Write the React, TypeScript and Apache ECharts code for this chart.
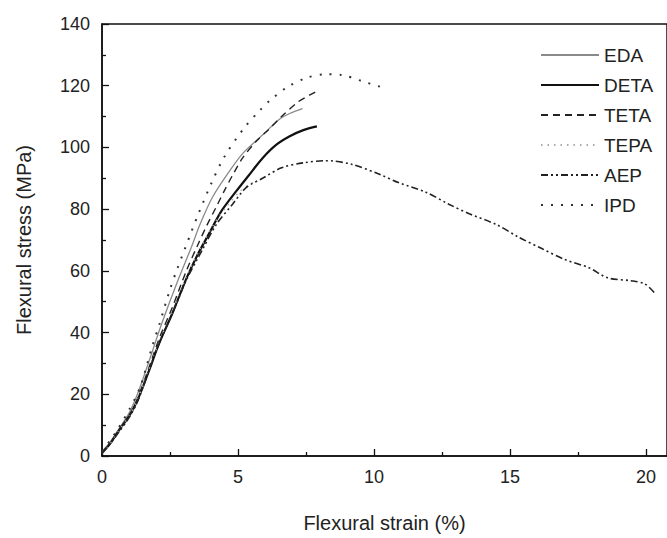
import React, { useEffect, useRef } from "react";
import * as echarts from "echarts";

const seriesNames = ["EDA", "DETA", "TETA", "TEPA", "AEP", "IPD"];

const eda: [number, number][] = [
  [0, 1.5], [0.3, 4.5], [0.6, 8.5], [1.0, 14], [1.3, 20], [1.7, 30], [2.2, 43],
  [2.75, 56], [3.3, 68], [3.6, 75], [4.07, 84], [4.7, 92.5], [5.17, 98],
  [5.9, 104], [6.5, 109], [6.9, 111], [7.37, 112.6],
];
const deta: [number, number][] = [
  [0, 1], [0.3, 4], [0.6, 8], [1.0, 13], [1.3, 18], [1.7, 27], [2.1, 36.5],
  [2.6, 46.5], [3.1, 57.5], [3.5, 65], [3.9, 71.5], [4.4, 79.5], [4.95, 86],
  [5.4, 91], [5.9, 96.5], [6.4, 100.8], [6.9, 103.6], [7.4, 105.6], [7.9, 106.8],
];
const teta: [number, number][] = [
  [0, 1], [0.3, 4], [0.6, 8], [1.0, 13], [1.3, 18.5], [1.7, 28], [2.1, 38],
  [2.6, 48.5], [3.1, 60], [3.5, 68], [3.83, 74.3], [4.2, 80.7], [4.5, 86],
  [4.8, 91], [5.17, 96.6], [5.67, 102], [6.15, 106], [6.6, 110], [7.2, 114.7],
  [7.7, 117.3], [7.85, 118],
];
const tepa: [number, number][] = [
  [0, 1], [0.3, 4], [0.6, 8], [1.0, 13], [1.3, 18], [1.7, 27.5], [2.1, 37],
  [2.6, 47], [3.1, 58], [3.6, 67], [4.1, 75], [4.6, 81], [5.1, 86], [5.6, 89],
];
const aep: [number, number][] = [
  [0, 1], [0.3, 4], [0.6, 7.5], [1.0, 12.5], [1.3, 17.5], [1.7, 27], [2.1, 36.5],
  [2.6, 46.5], [3.1, 57], [3.7, 67], [4.2, 75], [4.8, 81.6], [5.3, 87], [5.9, 90],
  [6.6, 93.4], [7.4, 95], [8.2, 95.7], [8.5, 95.6], [9.2, 94.5], [10.2, 91.3],
  [10.9, 88.6], [11.9, 85.5], [12.75, 81.6], [13.5, 78.5], [14.5, 75], [15.3, 71],
  [16.15, 67.3], [17.0, 63.7], [17.9, 61], [18.6, 57.7], [19.45, 56.8],
  [19.95, 55.8], [20.3, 53],
];
const ipd: [number, number][] = [
  [0, 1.5], [0.3, 5], [0.6, 9], [1.0, 15], [1.39, 22], [1.83, 35], [2.12, 43],
  [2.5, 54], [2.78, 61], [3.04, 67], [3.3, 73], [3.5, 77.5], [4.0, 88], [4.5, 97],
  [5.2, 106], [5.8, 112], [6.15, 115], [6.8, 119.5], [7.5, 122.5], [8.2, 123.7],
  [8.8, 123.5], [9.55, 121.5], [10.25, 119.6],
];

const xMajorTicks = [0, 5, 10, 15, 20];
const xMinorTicks = [2.5, 7.5, 12.5, 17.5];
const xMax = 20.77;

const FONT = "'Liberation Sans', Arial, sans-serif";

export default function App() {
  const ref = useRef<HTMLDivElement>(null);
  useEffect(() => {
    if (!ref.current) return;
    const chart = echarts.init(ref.current, undefined, { renderer: "svg" });
    const lineCommon = { type: "line", showSymbol: false, symbol: "none", smooth: 0.3 };
    const option: any = {
      animation: false,
      backgroundColor: "#fff",
      textStyle: { fontFamily: FONT },
      grid: {
        left: 102, right: -2, top: 24, bottom: 75,
        show: true, borderColor: "#111", borderWidth: 1.5, backgroundColor: "rgba(0,0,0,0)",
      },
      legend: {
        orient: "vertical",
        left: 535,
        top: 40,
        itemWidth: 58,
        itemHeight: 14,
        itemGap: 10,
        data: seriesNames,
        itemStyle: { color: "rgba(0,0,0,0)", borderColor: "rgba(0,0,0,0)", borderWidth: 0, opacity: 0 },
        textStyle: { fontSize: 19, color: "#222", fontFamily: FONT, lineHeight: 20 },
      },
      xAxis: [
        {
          type: "value",
          min: 0,
          max: xMax,
          name: "Flexural strain (%)",
          nameLocation: "middle",
          nameGap: 57,
          nameTextStyle: { fontSize: 20, color: "#222", fontFamily: FONT, padding: [0, 0, 0, 0] },
          axisLine: { onZero: false, lineStyle: { color: "#111", width: 1.5 } },
          axisTick: { inside: true, length: 7, customValues: xMajorTicks, lineStyle: { color: "#111", width: 1.3 } },
          axisLabel: { customValues: xMajorTicks, fontSize: 18, color: "#222", margin: 12, fontFamily: FONT },
          splitLine: { show: false },
        },
        {
          type: "value",
          min: 0,
          max: xMax,
          position: "bottom",
          axisLine: { show: false, onZero: false },
          axisTick: { inside: true, length: 4, customValues: xMinorTicks, lineStyle: { color: "#111", width: 1.3 } },
          axisLabel: { show: false },
          splitLine: { show: false },
        },
      ],
      yAxis: {
        type: "value",
        min: 0,
        max: 140,
        interval: 20,
        name: "Flexural stress (MPa)",
        nameLocation: "middle",
        nameGap: 68,
        nameTextStyle: { fontSize: 20, color: "#222", fontFamily: FONT },
        axisLine: { show: true, onZero: false, lineStyle: { color: "#111", width: 1.5 } },
        axisTick: { show: true, inside: true, length: 7, lineStyle: { color: "#111", width: 1.3 } },
        minorTick: { show: true, splitNumber: 2, length: 4, lineStyle: { color: "#111", width: 1.3 } },
        axisLabel: { fontSize: 18, color: "#222", margin: 12, fontFamily: FONT },
        splitLine: { show: false },
      },
      series: [
        { ...lineCommon, name: "EDA", data: eda, lineStyle: { color: "#8a8a8a", width: 1.3, type: "solid" }, itemStyle: { color: "#8a8a8a" } },
        { ...lineCommon, name: "DETA", data: deta, lineStyle: { color: "#111", width: 2.2, type: "solid" }, itemStyle: { color: "#111" } },
        { ...lineCommon, name: "TETA", data: teta, lineStyle: { color: "#222", width: 1.4, type: [7, 5] }, itemStyle: { color: "#222" } },
        { ...lineCommon, name: "TEPA", data: tepa, lineStyle: { color: "#aaa", width: 1.4, type: [1.5, 5] }, itemStyle: { color: "#aaa" } },
        { ...lineCommon, name: "AEP", data: aep, lineStyle: { color: "#222", width: 1.6, type: [7, 3, 2, 3, 2, 3] }, itemStyle: { color: "#222" } },
        { ...lineCommon, name: "IPD", data: ipd, lineStyle: { color: "#333", width: 2, type: [2, 8] }, itemStyle: { color: "#333" } },
      ],
    };
    chart.setOption(option);
    return () => chart.dispose();
  }, []);
  return <div ref={ref} style={{ width: 667, height: 538, position: "absolute", left: 0, top: 0 }} />;
}
